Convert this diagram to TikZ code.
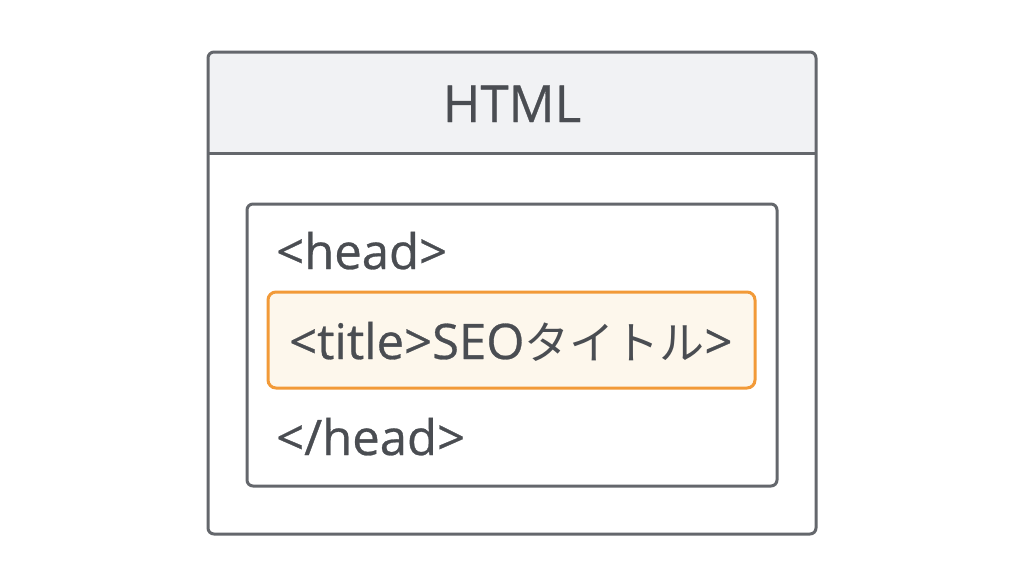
\documentclass[tikz,border=0pt]{standalone}
\usepackage{fontspec}
\setmainfont{Open Sans}[FakeBold=0.6]
\newfontfamily\cjk{Noto Sans CJK JP}
\definecolor{bord}{HTML}{64676C}
\definecolor{txt}{HTML}{4A4D52}
\definecolor{headfill}{HTML}{F1F2F4}
\definecolor{orng}{HTML}{F29A38}
\definecolor{ofill}{HTML}{FDF7EC}
\begin{document}
\begin{tikzpicture}[x=1pt,y=-1pt,
  box/.style={draw=bord,line width=3pt,rounded corners=6pt},
  lbl/.style={text=txt,inner sep=0pt,font=\fontsize{49}{56}\selectfont}]
\useasboundingbox[fill=white] (0,0) rectangle (1024,576);
% outer box
\begin{scope}
\clip[rounded corners=6pt] (208,52) rectangle (816,534);
\fill[headfill] (208,52) rectangle (816,153);
\end{scope}
\draw[box] (208,52) rectangle (816,534);
\coordinate (dl) at (208,153);
\coordinate (dr) at (816,153);
\draw[draw=bord,line width=3pt] (dl) -- (dr);
\node[lbl,anchor=base,font=\fontsize{51}{58}\selectfont] (html) at (512,122) {HTML};
% inner box
\draw[box] (247,204) rectangle (777,486);
\node[lbl,anchor=base west] (head) at (276,269) {<head>};
\draw[draw=orng,fill=ofill,line width=3pt,rounded corners=8pt] (268,292) rectangle (755,388);
\node[lbl,anchor=base west] (title) at (289,359) {<title>SEO{\cjk\fontsize{45}{50}\selectfont タイトル}>};
\node[lbl,anchor=base west] (ehead) at (276,455) {</head>};
\end{tikzpicture}
\end{document}
